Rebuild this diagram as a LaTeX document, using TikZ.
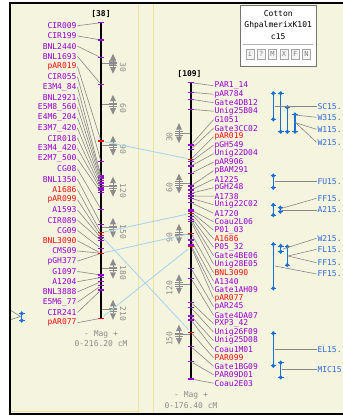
\documentclass[tikz,border=0pt]{standalone}
\usepackage{fontspec}
\setmonofont{DejaVu Sans Mono}
\usetikzlibrary{calc}
\definecolor{bgcol}{RGB}{245,244,222}
\definecolor{panelline}{RGB}{238,228,160}
\definecolor{mkpurple}{RGB}{150,0,210}
\definecolor{mkred}{RGB}{240,15,15}
\definecolor{conncol}{RGB}{135,135,135}
\definecolor{homcol}{RGB}{165,210,235}
\definecolor{qtlcol}{RGB}{25,110,215}
\definecolor{qtltxt}{RGB}{45,105,215}
\definecolor{scalecol}{RGB}{140,140,140}
\tikzset{>=latex}
\tikzstyle{mlabel}=[font=\ttfamily\fontsize{8}{8}\selectfont, inner sep=0.8pt]
\tikzstyle{conn}=[line width=0.6, color=conncol]
\tikzstyle{hom}=[line width=0.8, color=homcol, shorten <=3.5pt, shorten >=3.5pt]
\tikzstyle{chrom}=[line width=2.0, color=black]
\tikzstyle{mtick}=[line width=1.1]
\tikzstyle{qtl}=[line width=1.3, color=qtlcol]
\tikzstyle{qlabel}=[mlabel, text=qtltxt, anchor=west]
\tikzstyle{scaletxt}=[font=\ttfamily\fontsize{8}{8}\selectfont, text=scalecol, inner sep=0pt]
\tikzstyle{chtitle}=[font=\ttfamily\bfseries\fontsize{8}{8}\selectfont, inner sep=0pt]
\tikzstyle{btn}=[draw=gray!70, fill=gray!8, line width=0.8, minimum width=8pt, minimum height=10pt,
                 inner sep=0pt, text=gray, font=\ttfamily\fontsize{7}{7}\selectfont]

\begin{document}
\begin{tikzpicture}[x=1pt,y=-1pt]
  \def\xL{101}    % left chromosome
  \def\xR{191}    % right chromosome
  \def\cmL{1.367} % px per cM
  \def\cmR{1.68}
  \useasboundingbox (0,0) rectangle (343,416);

  % FRAME
  \fill[bgcol] (10,3) rectangle (343,414);
  \draw[panelline,line width=1] (153,4) -- (153,413);
  \draw[panelline,line width=1] (138,4) -- (138,411) -- (11,411);
  \draw[line width=1.6] (343,3) -- (10,3) -- (10,414) -- (343,414);

  % SCALES
  \fill[scalecol!80] (109,60) rectangle (116,65.5);
  \foreach \cm in {30,60,...,210}{
    \pgfmathsetmacro\yy{22.7+\cm*\cmL}
    \def\gx{113}
    \draw[scalecol,line width=0.8] (\xL,\yy) -- (\gx+4,\yy);
    \fill[scalecol] (\gx-3,\yy-3.5) -- (\gx+3,\yy-3.5) -- (\gx,\yy-10) -- cycle;
    \fill[scalecol] (\gx-3,\yy+3.5) -- (\gx+3,\yy+3.5) -- (\gx,\yy+10) -- cycle;
    \draw[scalecol,line width=0.6] (\gx-4,\yy-1.8) -- (\gx+4,\yy-1.8)
      (\gx-4,\yy+1.8) -- (\gx+4,\yy+1.8) (\gx,\yy-3.5) -- (\gx,\yy+3.5);
    \node[scaletxt,rotate=-90] (sl\cm) at (123,\yy+4) {\cm};
  }
  \foreach \cm in {30,60,...,150}{
    \pgfmathsetmacro\yy{82.7+\cm*\cmR}
    \def\gx{179}
    \draw[scalecol,line width=0.8] (\gx-4,\yy) -- (\xR,\yy);
    \fill[scalecol] (\gx-3,\yy-3.5) -- (\gx+3,\yy-3.5) -- (\gx,\yy-10) -- cycle;
    \fill[scalecol] (\gx-3,\yy+3.5) -- (\gx+3,\yy+3.5) -- (\gx,\yy+10) -- cycle;
    \draw[scalecol,line width=0.6] (\gx-4,\yy-1.8) -- (\gx+4,\yy-1.8)
      (\gx-4,\yy+1.8) -- (\gx+4,\yy+1.8) (\gx,\yy-3.5) -- (\gx,\yy+3.5);
    \node[scaletxt,rotate=90] (sr\cm) at (169.5,\yy+4) {\cm};
  }

  % CHROMOSOMES
  \draw[chrom] (\xL,22.7) -- (\xL,318.3);
  \draw[chrom] (\xR,82.7) -- (\xR,379);
  \node[chtitle] (tL) at (\xL,13.5) {[38]};
  \node[chtitle] (tR) at (189.5,74.3) {[109]};

  % LEFT MARKERS
  \foreach \mk/\tk/\col [count=\i] in {CIR009/22.7/mkpurple, CIR199/40/mkpurple,
      BNL2440/57.7/mkpurple, BNL1693/84.3/mkpurple, pAR019/141/mkred, CIR055/161.7/mkpurple,
      E3M4\_84/176/mkpurple, BNL2921/178/mkpurple, E5M8\_560/180.5/mkpurple,
      E4M6\_204/183/mkpurple, E3M7\_420/185.5/mkpurple, CIR018/188/mkpurple,
      E3M4\_420/190/mkpurple, E2M7\_500/192.7/mkpurple, CG08/209.3/mkpurple,
      BNL1350/224.3/mkpurple, A1686/232.7/mkred, pAR099/235.7/mkred, A1593/238/mkpurple,
      CIR089/240.7/mkpurple, CG09/248.3/mkpurple, BNL3090/253.3/mkred, CMS09/253.3/mkpurple,
      pGH377/253.3/mkpurple, G1097/275/mkpurple, A1204/277.5/mkpurple, BNL3888/281.7/mkpurple,
      E5M6\_77/285.7/mkpurple, CIR241/290/mkpurple, pAR077/318.3/mkred}{
    \pgfmathsetmacro\ly{25.7+(\i-1)*10.24}
    \node[mlabel,anchor=east,text=\col] (L\i) at (77.5,\ly) {\mk};
    \coordinate (lt\i) at (\xL,\tk);
    \draw[conn,shorten >=2pt] (L\i.east) -- (lt\i);
    \draw[mtick,\col] (\xL-3,\tk) -- (\xL+3,\tk);
  }
  \draw[mtick,mkred] (\xL-3,253.3) -- (\xL+3,253.3); % shared position

  % RIGHT MARKERS
  \foreach \mk/\tk/\col [count=\i] in {PAR1\_14/82.7/mkpurple, pAR784/92.3/mkpurple,
      Gate4DB12/99.3/mkpurple, Unig25B04/109.3/mkpurple, G1051/145/mkpurple,
      Gate3CC02/149.3/mkpurple, pAR019/159.3/mkred, pGH549/161.7/mkpurple,
      Unig22D04/166/mkpurple, pAR906/173.3/mkpurple, pBAM291/186/mkpurple, A1225/190/mkpurple,
      pGH248/193.3/mkpurple, A1738/196/mkpurple, Unig22C02/198.3/mkpurple, A1720/202.7/mkpurple,
      Coau2L06/210/mkpurple, P01\_03/211.7/mkpurple, A1686/213.3/mkred, P05\_32/216.7/mkpurple,
      Gate4BE06/219.3/mkpurple, Unig28E05/221.7/mkpurple, BNL3090/233.3/mkred,
      A1340/240/mkpurple, Gate1AH09/245/mkpurple, pAR077/246.7/mkred, pAR245/268.3/mkpurple,
      Gate4DA07/278.3/mkpurple, PXP3\_42/302.3/mkpurple, Unig26F09/307.7/mkpurple,
      Unig25D08/316/mkpurple, Coau1M01/320/mkpurple, PAR099/332.3/mkred,
      Gate1BG09/346.7/mkpurple, PAR09D01/361.7/mkpurple, Coau2E03/379/mkpurple}{
    \pgfmathsetmacro\ly{85.7+(\i-1)*8.5}
    \node[mlabel,anchor=west,text=\col] (R\i) at (213.5,\ly) {\mk};
    \coordinate (rt\i) at (\xR,\tk);
    \draw[conn,shorten <=2pt] (rt\i) -- (R\i.west);
    \draw[mtick,\col] (\xR-3,\tk) -- (\xR+3,\tk);
  }

  % HOMOLOGOUS MARKERS
  \draw[hom] (lt5) -- (rt7);
  \draw[hom] (lt17) -- (rt19);
  \draw[hom] (lt22) -- (rt23);
  \draw[hom] (lt18) -- (rt33);
  \draw[hom] (lt30) -- (rt26);

  % MAGNIFICATION
  \node[scaletxt] (magL) at (\xL,334) {- Mag +};
  \node[scaletxt] (rngL) at (\xL,343.5) {0-216.20 cM};
  \node[scaletxt] (magR) at (\xR,395) {- Mag +};
  \node[scaletxt] (rngR) at (\xR,405.5) {0-176.40 cM};

  % QTL
  \foreach \x/\ya/\yb in {273.3/93.3/119.3, 280.7/93.3/131.7, 287.3/107.3/131.7,
      295/114.5/131.7, 273.3/175.7/187.7, 273.3/205/215, 280.3/207.7/211.7,
      273.3/244.3/288.3, 280.7/246/251.7, 287.3/246.7/265, 273.3/333.3/365.7,
      280.7/362.7/377.3, 21.7/313.5/320.5}{
    \draw[qtl] (\x,\ya) -- (\x,\yb);
    \foreach \yy in {\ya,\yb}{
      \fill[qtlcol] (\x,\yy-2.3) -- (\x+2,\yy) -- (\x,\yy+2.3) -- (\x-2,\yy) -- cycle;
      \draw[qtlcol,line width=0.7] (\x-2.8,\yy) -- (\x+2.8,\yy);
    }
  }
  \foreach \q/\ax/\ay/\ly [count=\k] in {SC15./274.5/106.7/106.7, W315./295/115/117.3,
      W115./295/122.5/129.3, W215./296/123/142.3, FU15./274.5/181.7/181.7,
      FF15./281/208.5/198.3, A215./282/210/210, W215./283/249/238.3,
      FL15./288/256/249.3, FF15./288/256/262.7, FF15./275/266/274,
      EL15./274.5/349.3/349.3, MIC15/282/369.3/369.3}{
    \coordinate (qa\k) at (\ax,\ay);
    \node[qlabel] (q\k) at (316.5,\ly) {\q};
    \draw[conn] (qa\k) -- (q\k.west);
  }
  \coordinate (ex1) at (11,310.5);
  \coordinate (ex2) at (11,319.5);
  \coordinate (qx) at (20.5,316.5);
  \draw[conn] (ex1) -- (qx) -- (ex2);

  % MAP BOX
  \draw[draw=gray!90!black,fill=white,line width=0.8] (240,5.5) rectangle (316.5,66.5);
  \node[mlabel] (sp) at (278.2,13.3) {Cotton};
  \node[mlabel] (mp) at (278.2,25) {GhpalmerixK101};
  \node[mlabel] (ch) at (278.2,36.7) {c15};
  \draw[gray!60,line width=0.8] (243,44) -- (313,44);
  \foreach \b [count=\k] in {i,?,M,X,F,N}
    \node[btn] (b\k) at (250+11.3*\k-11.3,54.3) {\b};
\end{tikzpicture}
\end{document}
